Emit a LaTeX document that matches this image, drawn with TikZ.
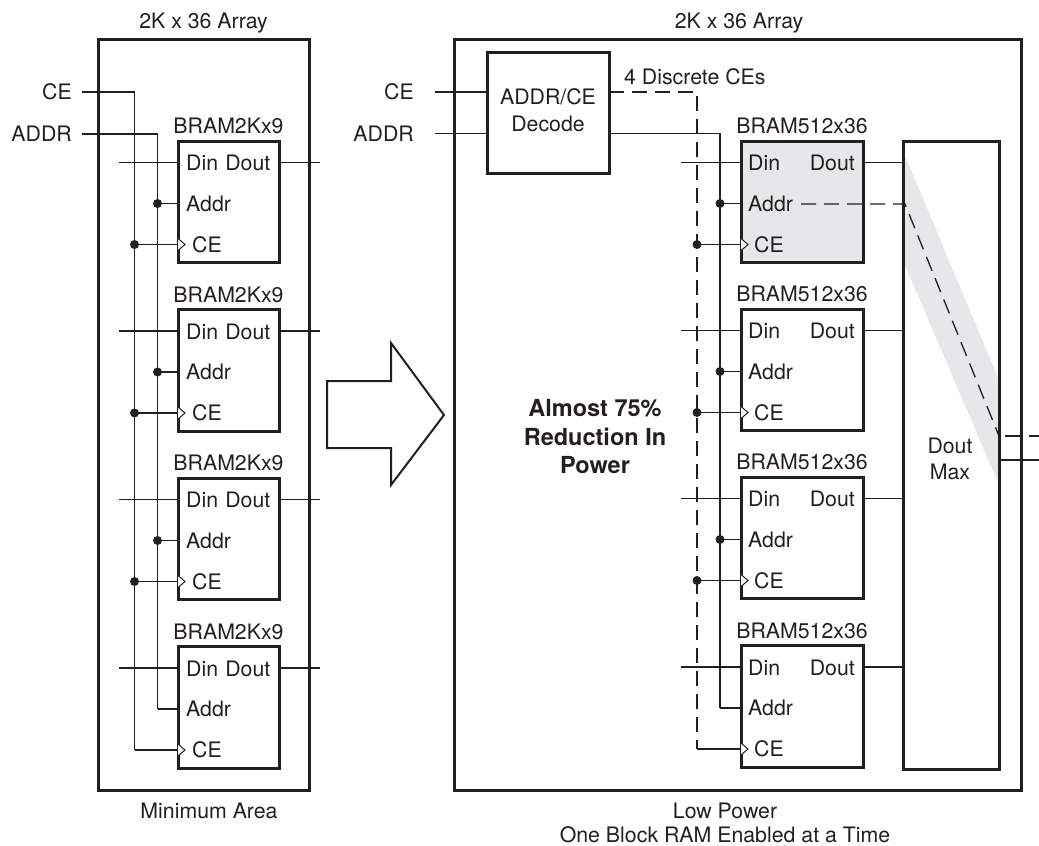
\documentclass[tikz,border=0pt]{standalone}
\usepackage{fontspec}
\setmainfont{TeX Gyre Heros}
\usepackage{xcolor}
\usetikzlibrary{calc}
\usetikzlibrary{positioning}
\definecolor{ink}{HTML}{231F20}
\definecolor{bandgrey}{HTML}{E6E7E8}
\tikzset{
	wire/.style={draw=ink,line width=1.3pt},
	dashwire/.style={draw=ink,line width=1.3pt,dash pattern=on 15pt off 8pt},
	frame/.style={draw=ink,line width=3pt},
	txt/.style={inner sep=0pt,text=ink,font=\fontsize{21.3}{26.5}\selectfont},
	dot/.style={circle,fill=ink,inner sep=0pt,minimum size=9pt},
	clk/.style={draw=ink,line width=1pt,fill=white,line join=miter}
}
\begin{document}
\begin{tikzpicture}[x=1pt,y=-1pt]
	\useasboundingbox (0,0) rectangle (1039,846);

	% left array
	\coordinate (L1) at (98,39);
	\coordinate (L2) at (309,790);
	\draw[frame] (L1) rectangle (L2);
	\node[txt] (ltitle) at (203.5,23) {2K x 36 Array};
	\node[txt] (lfoot) at (209,811) {Minimum Area};
	\node[txt,anchor=east] (lce) at (72,92) {CE};
	\node[txt,anchor=east] (laddr) at (72,134) {ADDR};
	\coordinate (lceA) at (82,92);
	\coordinate (laddrA) at (82,134);

	\foreach \n/\y in {1/0,2/168.5,3/337,4/505.5}{
		\coordinate (lb\n a) at (178,141+\y);
		\coordinate (lb\n b) at (279,262.5+\y);
		\draw[frame] (lb\n a) rectangle (lb\n b);
		\node[txt] (lname\n) at (228.5,126+\y) {BRAM2Kx9};
		\node[txt,anchor=west] (ldin\n) at (186,163+\y) {Din};
		\node[txt,anchor=east] (ldout\n) at (270.5,163+\y) {Dout};
		\node[txt,anchor=west] (lad\n) at (186,203.5+\y) {Addr};
		\node[txt,anchor=west] (lc\n) at (192,244.5+\y) {CE};
		\coordinate (lin\n) at (119,162.5+\y);
		\coordinate (lpd\n) at (178,162.5+\y);
		\coordinate (lqd\n) at (279,162.5+\y);
		\coordinate (lout\n) at (320,162.5+\y);
		\coordinate (lpa\n) at (178,203.5+\y);
		\coordinate (lpc\n) at (178,244.5+\y);
		\coordinate (lja\n) at (157.5,203.5+\y);
		\coordinate (ljc\n) at (134.5,244.5+\y);
		\draw[wire] (lin\n) -- (lpd\n);
		\draw[wire] (lqd\n) -- (lout\n);
		\draw[wire] (lja\n) -- (lpa\n);
		\draw[wire] (ljc\n) -- (lpc\n);
		\draw[clk] (lpc\n)+(0,-6) -- +(7,0) -- +(0,6);
	}
	\foreach \n in {1,2,3}{
		\node[dot] (lda\n) at (lja\n) {};
		\node[dot] (ldc\n) at (ljc\n) {};
	}
	\draw[wire] (lceA) -| (ljc4);
	\draw[wire] (laddrA) -| (lja4);

	% block arrow
	\coordinate (A1) at (327,381);
	\coordinate (A2) at (391,381);
	\coordinate (A3) at (391,343);
	\coordinate (A4) at (444,415);
	\coordinate (A5) at (391,485);
	\coordinate (A6) at (391,448);
	\coordinate (A7) at (327,448);
	\draw[draw=ink,line width=2pt,line join=miter] (A1) -- (A2) -- (A3) -- (A4) -- (A5) -- (A6) -- (A7) -- cycle;

	% right array
	\coordinate (R1) at (454,39);
	\coordinate (R2) at (1021,790);
	\node[txt] (rtitle) at (739,23) {2K x 36 Array};
	\node[txt] (rfoot) at (725,811) {Low Power};
	\node[txt] (rfoot2) at (725,835) {One Block RAM Enabled at a Time};
	\node[txt,anchor=east] (rce) at (414,92) {CE};
	\node[txt,anchor=east] (raddr) at (414,134) {ADDR};
	\coordinate (rceA) at (435,92);
	\coordinate (raddrA) at (435,133.5);
	\coordinate (dec1) at (487.5,52);
	\coordinate (dec2) at (609,173);
	\node[txt,align=center] (decl) at (548,110) {ADDR/CE\\Decode};
	\node[txt,anchor=west] (disc) at (624,77) {4 Discrete CEs};
	\node[txt,font=\fontsize{23.5}{28.5}\selectfont\bfseries,align=center] (save) at (595,437) {Almost 75\%\\Reduction In\\Power};

	% grey parts go under everything
	\fill[bandgrey] (741,141) rectangle (863,262);
	\coordinate (M1) at (903,141);
	\coordinate (M2) at (999,769);
	\fill[bandgrey] (904,153) -- (999,380) -- (999,485) -- (904,263) -- cycle;
	\draw[frame] (M1) rectangle (M2);
	\node[txt,align=center] (mux) at (950,459) {Dout\\Max};

	\draw[frame] (R1) rectangle (R2);
	\draw[frame] (dec1) rectangle (dec2);
	\draw[wire] (rceA) -- (rceA -| dec1);
	\draw[wire] (raddrA) -- (raddrA -| dec1);

	\foreach \n/\y in {1/0,2/168,3/336,4/504.5}{
		\coordinate (rb\n a) at (741,141+\y);
		\coordinate (rb\n b) at (863,262.5+\y);
		\draw[frame] (rb\n a) rectangle (rb\n b);
		\node[txt] (rname\n) at (802,126+\y) {BRAM512x36};
		\node[txt,anchor=west] (rdin\n) at (748,163+\y) {Din};
		\node[txt,anchor=east] (rdout\n) at (855,163+\y) {Dout};
		\node[txt,anchor=west] (rad\n) at (748,203.5+\y) {Addr};
		\node[txt,anchor=west] (rc\n) at (754,244.5+\y) {CE};
		\coordinate (rin\n) at (681,162.5+\y);
		\coordinate (rpd\n) at (741,162.5+\y);
		\coordinate (rqd\n) at (863,162.5+\y);
		\coordinate (rmx\n) at (903,162.5+\y);
		\coordinate (rpa\n) at (741,203.5+\y);
		\coordinate (rpc\n) at (741,244.5+\y);
		\coordinate (rja\n) at (720,203.5+\y);
		\coordinate (rjc\n) at (697,244.5+\y);
		\draw[wire] (rin\n) -- (rpd\n);
		\draw[wire] (rqd\n) -- (rmx\n);
		\draw[wire] (rja\n) -- (rpa\n);
		\draw[wire] (rjc\n) -- (rpc\n);
		\draw[clk] (rpc\n)+(0,-6) -- +(7,0) -- +(0,6);
	}
	\foreach \n in {1,2,3}{
		\node[dot] (rda\n) at (rja\n) {};
		\node[dot] (rdc\n) at (rjc\n) {};
	}
	\coordinate (decA) at (609,133.5);
	\coordinate (decC) at (609,92);
	\draw[wire] (decA) -| (rja4);
	\draw[dashwire] (decC) -| (rjc4);

	% selected path through the mux
	\coordinate (P1) at (801,204);
	\coordinate (P2) at (905,204);
	\coordinate (P3) at (999,436);
	\coordinate (P4) at (1005,436);
	\coordinate (P5) at (1021,436);
	\coordinate (P8) at (1029,436);
	\coordinate (P9) at (1039,436);
	\coordinate (P6) at (999,460);
	\coordinate (P7) at (1039,460);
	\draw[dashwire] (P1) -- (P2) -- (P3);
	\draw[wire] (P4) -- (P5);
	\draw[wire] (P8) -- (P9);
	\draw[wire] (P6) -- (P7);
\end{tikzpicture}
\end{document}
